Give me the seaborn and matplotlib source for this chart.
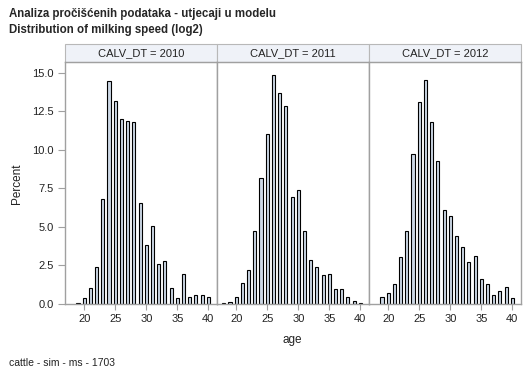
import matplotlib
matplotlib.use("Agg")
import matplotlib.pyplot as plt
import numpy as np
import pandas as pd
import seaborn as sns
from matplotlib.patches import Rectangle
from matplotlib.ticker import FormatStrFormatter

# podaci procitani sa slike (postotak po dobi, po godini telenja)
years = [2010, 2011, 2012]
ages_2010 = list(range(19, 41))
pct_2010 = [0.05, 0.37, 1.02, 2.38, 6.80, 14.46, 13.16, 11.99, 11.86, 11.82, 6.54,
            3.81, 5.06, 2.57, 2.77, 1.02, 0.37, 1.93, 0.43, 0.56, 0.56, 0.43]
ages_2011 = list(range(18, 41))
pct_2011 = [0.06, 0.11, 0.43, 1.36, 2.19, 4.72, 8.16, 11.02, 14.85, 13.68, 12.84,
            6.95, 7.38, 4.72, 2.84, 2.38, 1.86, 1.93, 0.95, 0.95, 0.43, 0.17, 0.05]
ages_2012 = list(range(19, 41))
pct_2012 = [0.43, 0.69, 1.28, 3.03, 4.72, 9.72, 13.10, 14.52, 11.80, 9.26, 6.08,
            5.69, 4.39, 3.68, 2.71, 3.10, 1.60, 1.28, 0.56, 0.82, 1.08, 0.37]
xticks = [20, 25, 30, 35, 40]
yticks = [0.0, 2.5, 5.0, 7.5, 10.0, 12.5, 15.0]

df = pd.concat([
    pd.DataFrame({"CALV_DT": 2010, "age": ages_2010, "Percent": pct_2010}),
    pd.DataFrame({"CALV_DT": 2011, "age": ages_2011, "Percent": pct_2011}),
    pd.DataFrame({"CALV_DT": 2012, "age": ages_2012, "Percent": pct_2012}),
])

sns.set_style("white")
plt.rcParams["font.family"] = ["Liberation Sans", "DejaVu Sans"]

W, H = 529, 378
fig = plt.figure(figsize=(W / 100, H / 100), dpi=100)

frame = "#a0a0a0"
lefts = [65, 217, 369]
for i, yr in enumerate(years):
    ax = fig.add_axes([lefts[i] / W, (H - 304) / H, 152 / W, 242 / H])
    sub = df[df.CALV_DT == yr]
    sns.barplot(data=sub, x="age", y="Percent", native_scale=True, width=0.5,
                color="#cdd8e6", saturation=1, edgecolor="black", linewidth=0.8, ax=ax)
    ax.set_xlim(16.9, 41.4)
    ax.set_ylim(0, 15.7)
    ax.set_xticks(xticks)
    ax.set_xlabel("")
    ax.set_ylabel("")
    for s in ax.spines.values():
        s.set_color(frame)
        s.set_linewidth(1.0)
    ax.tick_params(axis="x", length=4, color=frame, labelsize=8, labelcolor="#222222", pad=3, bottom=True)
    if i == 0:
        ax.set_yticks(yticks)
        ax.yaxis.set_major_formatter(FormatStrFormatter("%.1f"))
        ax.tick_params(axis="y", length=5, color=frame, labelsize=8, labelcolor="#222222", pad=3, left=True)
    else:
        ax.set_yticks([])
    # zaglavlje panela
    hh = 18 / 242
    ax.add_patch(Rectangle((0, 1), 1, hh, transform=ax.transAxes, clip_on=False,
                           facecolor="#eff2f8", edgecolor="#b8b8b8", linewidth=0.8))
    ax.text(0.5, 1 + hh / 2, "CALV_DT = %d" % yr, transform=ax.transAxes,
            ha="center", va="center", fontsize=8, color="#222222")

fig.text(9 / W, 1 - 14 / H, "Analiza pročišćenih podataka - utjecaji u modelu",
         fontsize=8.3, fontweight="bold", va="center", ha="left")
fig.text(9 / W, 1 - 30 / H, "Distribution of milking speed (log2)",
         fontsize=8.3, fontweight="bold", va="center", ha="left")
fig.text(17 / W, 1 - 184 / H, "Percent", rotation=90, fontsize=8.5,
         va="center", ha="center", color="#222222")
fig.text(292 / W, 1 - 340 / H, "age", fontsize=8.5, va="center", ha="center", color="#222222")
fig.text(9 / W, 1 - 363 / H, "cattle - sim - ms - 1703", fontsize=7.5,
         va="center", ha="left", color="#222222")

fig.savefig("out.png", dpi=100)
